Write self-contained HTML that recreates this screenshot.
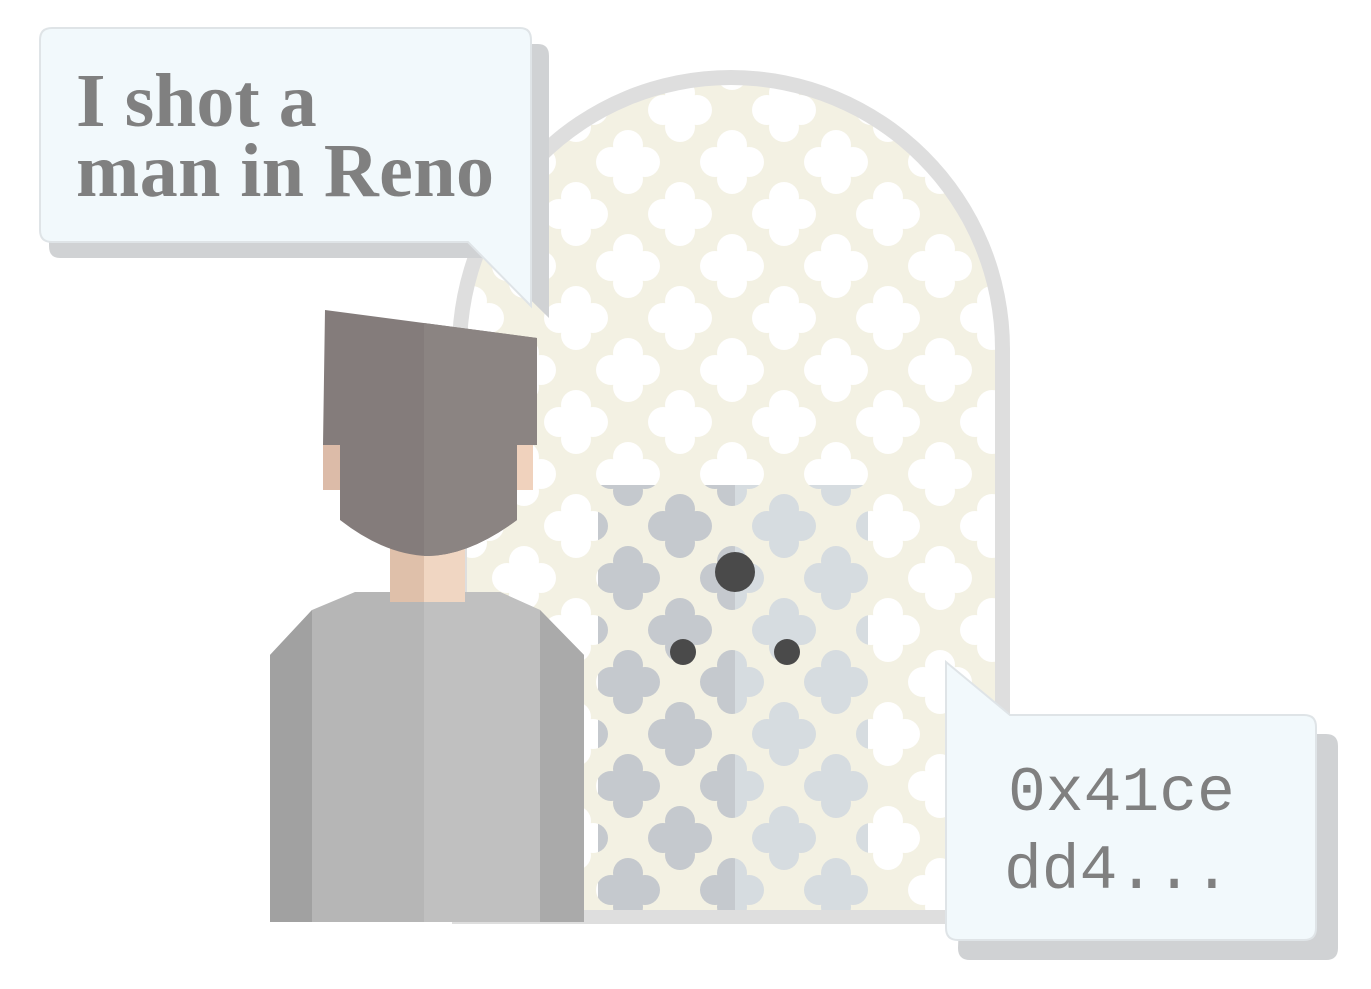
<!DOCTYPE html>
<html><head><meta charset="utf-8"><style>
html,body{margin:0;padding:0;background:#fff;}
svg{display:block;}
</style></head><body>
<svg width="1371" height="989" viewBox="0 0 1371 989" xmlns="http://www.w3.org/2000/svg">
<defs>
  <g id="qf">
    <circle cx="0" cy="-17" r="15"/><circle cx="0" cy="17" r="15"/>
    <circle cx="-17" cy="0" r="15"/><circle cx="17" cy="0" r="15"/>
    <circle cx="0" cy="0" r="20"/>
  </g>
  <pattern id="pw" patternUnits="userSpaceOnUse" x="628" y="162" width="104" height="104">
    <rect width="104" height="104" fill="#f3f1e3"/>
    <g fill="#ffffff">
      <use href="#qf" x="0" y="0"/><use href="#qf" x="104" y="0"/>
      <use href="#qf" x="0" y="104"/><use href="#qf" x="104" y="104"/>
      <use href="#qf" x="52" y="52"/>
    </g>
  </pattern>
  <pattern id="pgL" patternUnits="userSpaceOnUse" x="628" y="162" width="104" height="104">
    <rect width="104" height="104" fill="#f3f1e3"/>
    <g fill="#c5c9ce">
      <use href="#qf" x="0" y="0"/><use href="#qf" x="104" y="0"/>
      <use href="#qf" x="0" y="104"/><use href="#qf" x="104" y="104"/>
      <use href="#qf" x="52" y="52"/>
    </g>
  </pattern>
  <pattern id="pgR" patternUnits="userSpaceOnUse" x="628" y="162" width="104" height="104">
    <rect width="104" height="104" fill="#f3f1e3"/>
    <g fill="#d6dce0">
      <use href="#qf" x="0" y="0"/><use href="#qf" x="104" y="0"/>
      <use href="#qf" x="0" y="104"/><use href="#qf" x="104" y="104"/>
      <use href="#qf" x="52" y="52"/>
    </g>
  </pattern>
</defs>

<g>
  <path d="M452,924 V349 A279,279 0 0 1 1010,349 V924 Z" fill="#dedede"/>
  <path d="M467,910 V349 A264,264 0 0 1 995,349 V910 Z" fill="url(#pw)"/>
</g>

<g>
  <rect x="598" y="485" width="137" height="425" fill="url(#pgL)"/>
  <rect x="735" y="485" width="133" height="425" fill="url(#pgR)"/>
  <circle cx="735" cy="572" r="20" fill="#4a4a4a"/>
  <circle cx="683" cy="652" r="13" fill="#4a4a4a"/>
  <circle cx="787" cy="652" r="13" fill="#4a4a4a"/>
</g>

<g>
  <path d="M270,655 L312,610 L355,592 H500 L540,610 L584,655 V922 H270 Z" fill="#b6b6b6"/>
  <path d="M270,655 L312,610 V922 H270 Z" fill="#a1a1a1"/>
  <path d="M424,592 H500 L540,610 V922 H424 Z" fill="#c0c0c0"/>
  <path d="M540,610 L584,655 V922 H540 Z" fill="#aaaaaa"/>
  <rect x="390" y="530" width="75" height="72" fill="#dfc0aa"/>
  <rect x="424" y="530" width="41" height="72" fill="#f0d6c2"/>
  <rect x="323" y="445" width="17" height="45" fill="#dcbba8"/>
  <rect x="517" y="445" width="16" height="45" fill="#f0d2bd"/>
  <path d="M325,310 L537,338 V445 H517 V520 Q470,555 428,556 Q385,555 340,520 V445 H323 Z" fill="#847c7b"/>
  <path d="M424,323 L537,338 V445 H517 V520 Q470,555 428,556 L424,556 Z" fill="#8b8482"/>
</g>

<g>
  <path d="M60,44 H538 Q549,44 549,56 V318 L488,258 H60 Q49,258 49,246 V56 Q49,44 60,44 Z" fill="#d0d2d4"/>
  <path d="M52,28 H520 Q531,28 531,40 V306 L468,242 H52 Q40,242 40,230 V40 Q40,28 52,28 Z" fill="#f2f9fc" stroke="#dfe4e7" stroke-width="2"/>
  <text x="76" y="126" font-family="Liberation Serif, serif" font-weight="bold" font-size="76" fill="#808080">I shot a</text>
  <text x="76" y="196" font-family="Liberation Serif, serif" font-weight="bold" font-size="76" fill="#808080" textLength="418">man in Reno</text>
</g>

<g>
  <path d="M968,682 L1030,734 H1326 Q1338,734 1338,746 V948 Q1338,960 1326,960 H970 Q958,960 958,948 Z" fill="#d0d2d4"/>
  <path d="M946,662 L1010,715 H1304 Q1316,715 1316,727 V928 Q1316,940 1304,940 H958 Q946,940 946,928 Z" fill="#f2f9fc" stroke="#dfe4e7" stroke-width="2"/>
  <text x="1008" y="810" font-family="Liberation Mono, monospace" font-size="63" fill="#808080">0x41ce</text>
  <text x="1004" y="888" font-family="Liberation Mono, monospace" font-size="63" fill="#808080">dd4...</text>
</g>
</svg>
</body></html>
